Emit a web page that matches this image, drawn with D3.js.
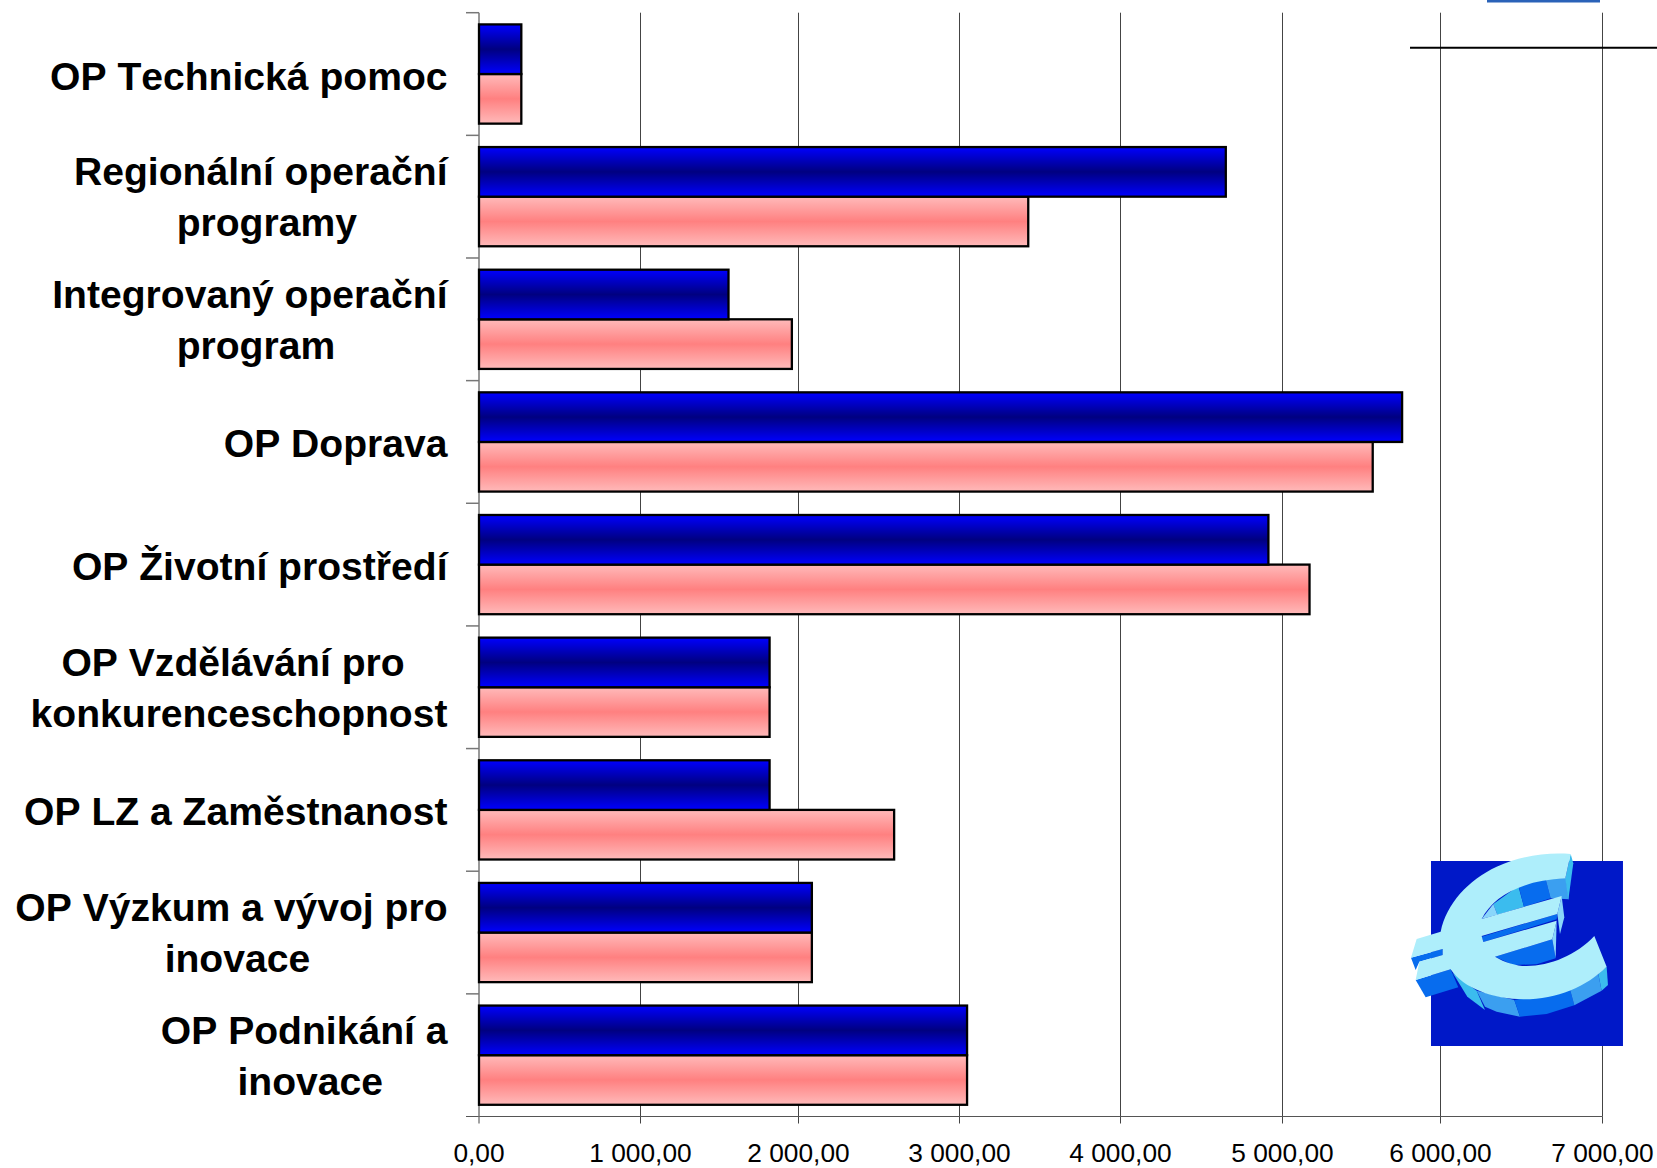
<!DOCTYPE html>
<html>
<head>
<meta charset="utf-8">
<script src="https://cdn.jsdelivr.net/npm/d3@7"></script>
<style>
  html, body { margin: 0; padding: 0; background: #fff; }
  svg { display: block; }
  text { font-family: "Liberation Sans", Arial, sans-serif; fill: #000; font-kerning: none; }
</style>
</head>
<body>
<div id="chart"></div>
<script>
// each category is a list of wrapped lines, same as the source chart
const categories = [
  ["OP Technická pomoc"],
  ["Regionální operační", "programy"],
  ["Integrovaný operační", "program"],
  ["OP Doprava"],
  ["OP Životní prostředí"],
  ["OP Vzdělávání pro", "konkurenceschopnost"],
  ["OP LZ a Zaměstnanost"],
  ["OP Výzkum a vývoj pro", "inovace"],
  ["OP Podnikání a", "inovace"]
];
const blueValues = [262, 4650, 1557, 5757, 4913, 1817, 1817, 2083, 3047];
const pinkValues = [262, 3427, 1958, 5571, 5171, 1817, 2594, 2083, 3047];
const xTicks = [0, 1000, 2000, 3000, 4000, 5000, 6000, 7000];

const width = 1657;
const height = 1168;
// the source axis is not quite even, so the scale goes through each measured tick
const xTickPos = [479, 640.5, 798.5, 959.5, 1120.5, 1282.5, 1440.5, 1602.5];
const plotTop = 12.7;
const plotBottom = 1116.5;

const svg = d3.select("#chart").append("svg")
  .attr("width", width)
  .attr("height", height);

// gradients for bars
const defs = svg.append("defs");
const addGradient = (id, edge, mid) => {
  const g = defs.append("linearGradient")
    .attr("id", id)
    .attr("x1", 0).attr("y1", 0).attr("x2", 0).attr("y2", 1);
  g.append("stop").attr("offset", "0%").attr("stop-color", edge);
  g.append("stop").attr("offset", "50%").attr("stop-color", mid);
  g.append("stop").attr("offset", "100%").attr("stop-color", edge);
};
addGradient("blueGrad", "#0000ff", "#000080");
addGradient("pinkGrad", "#ffbaba", "#ff8080");

const xScale = d3.scaleLinear().domain(xTicks).range(xTickPos);
const plotLeft = xScale(0);
const plotRight = xScale(7000);
const yScale = d3.scaleBand()
  .domain(categories.map((d, i) => i))
  .range([plotTop, plotBottom]);
const subScale = d3.scaleBand()
  .domain(["blue", "pink"])
  .range([0, yScale.bandwidth()])
  .paddingOuter(0.236)
  .paddingInner(0);

// grid lines
svg.append("g")
  .selectAll("line")
  .data(xTicks.slice(1))
  .join("line")
  .attr("x1", d => xScale(d))
  .attr("x2", d => xScale(d))
  .attr("y1", plotTop)
  .attr("y2", plotBottom)
  .attr("stroke", "#444")
  .attr("stroke-width", 1);

// x axis, labels use the czech number format
const formatTick = d => d3.format(",.2f")(d).replace(/,/g, " ").replace(".", ",");
const xAxis = d3.axisBottom(xScale)
  .tickValues(xTicks)
  .tickSize(7)
  .tickPadding(20)
  .tickFormat(formatTick)
  .offset(0);
const xAxisG = svg.append("g")
  .attr("transform", `translate(0, ${plotBottom})`)
  .call(xAxis);
xAxisG.select(".domain").remove();
xAxisG.selectAll("line").attr("stroke", "#444");
xAxisG.selectAll("text")
  .style("font-size", "26.3px")
  .attr("fill", "#000");

svg.append("line")
  .attr("x1", plotLeft - 13).attr("x2", plotRight)
  .attr("y1", plotBottom).attr("y2", plotBottom)
  .attr("stroke", "#555");

// category axis with ticks on the band edges
svg.append("line")
  .attr("x1", plotLeft).attr("x2", plotLeft)
  .attr("y1", plotTop).attr("y2", plotBottom)
  .attr("stroke", "#777")
  .attr("stroke-width", 1.5);
svg.append("g")
  .selectAll("line")
  .data(categories.map((d, i) => i))
  .join("line")
  .attr("x1", plotLeft - 13)
  .attr("x2", plotLeft)
  .attr("y1", d => yScale(d))
  .attr("y2", d => yScale(d))
  .attr("stroke", "#777")
  .attr("stroke-width", 1.5);

// bars
const drawBars = (values, key, fill) => {
  svg.append("g")
    .selectAll("rect")
    .data(values)
    .join("rect")
    .attr("x", xScale(0))
    .attr("y", (d, i) => yScale(i) + subScale(key))
    .attr("width", d => xScale(d) - xScale(0))
    .attr("height", subScale.bandwidth())
    .attr("fill", fill)
    .attr("stroke", "#000")
    .attr("stroke-width", 2.3);
};
drawBars(pinkValues, "pink", "url(#pinkGrad)");
drawBars(blueValues, "blue", "url(#blueGrad)");

// category labels
const labelRight = 447.5;
const lineGap = 51;
const secondShift = 6; // second line sits a bit right of the first one
const labels = svg.append("g")
  .style("font-size", "39.1px")
  .style("font-weight", "bold");
categories.forEach((lines, i) => {
  const mid = yScale(i) + yScale.bandwidth() / 2;
  const shift = lines.length === 1 ? 15.5 : 14;
  const texts = lines.map((t, k) => labels.append("text")
    .attr("y", mid + shift + (k - (lines.length - 1) / 2) * lineGap)
    .text(t));
  if (lines.length === 1) {
    texts[0].attr("x", labelRight).attr("text-anchor", "end");
    return;
  }
  const w = texts.map(t => t.node().getComputedTextLength());
  texts[0].attr("text-anchor", "middle");
  texts[1].attr("text-anchor", "middle");
  if (w[0] >= w[1]) {
    const c = labelRight - w[0] / 2;
    texts[0].attr("x", c);
    texts[1].attr("x", c + secondShift);
  } else {
    const c = labelRight - w[1] / 2;
    texts[1].attr("x", c);
    texts[0].attr("x", c - secondShift);
  }
});

// line and blue strip at the top right corner
svg.append("line")
  .attr("x1", 1410).attr("x2", width)
  .attr("y1", 47.7).attr("y2", 47.7)
  .attr("stroke", "#000")
  .attr("stroke-width", 2);
svg.append("rect")
  .attr("x", 1487).attr("y", 0)
  .attr("width", 113).attr("height", 2.5)
  .attr("fill", "#2a62b8");

// euro picture, traced in zoomed crop coordinates
const euro = svg.append("g").attr("transform", "translate(1380, 830) scale(0.3333)");
const shapes = [
  ["#0018c8", "M153,93H729V648H153Z"],
  ["#3bbcee", "M340,222L415,168L432,230L352,254Z"],
  ["#8ad6fa", "M305,267L340,222L352,254Z"],
  ["#076cee", "M415,165L497,148L512,205L432,230Z"],
  ["#3b9ff0", "M497,148L558,143L566,208L512,205Z"],
  ["#3bbcee", "M572,72L580,100L565,210L556,145Z"],
  ["#076cee", "M345,380L517,328L527,385L470,403L400,405Z"],
  ["#3bbcee", "M218,428L290,482L315,540L262,500Z"],
  ["#3b9ff0", "M290,482L403,510L420,560L350,545L315,530Z"],
  ["#076cee", "M403,510L570,478L583,526L500,552L420,560Z"],
  ["#3b9ff0", "M570,478L655,432L665,482L583,526Z"],
  ["#3bbcee", "M655,432L680,410L684,465L665,482Z"],
  ["#076cee", "M107,450L212,418L235,472L137,502Z"],
  ["#076cee", "M93,383L188,357V375L118,395L107,420Z"],
  ["#076cee", "M305,320L532,252L530,268L310,336Z"],
  ["#8ad6fa", "M545,198L553,262L540,312L532,252Z"],
  ["#8ad6fa", "M530,272L527,385L517,328Z"],
  ["#aeeefb", "M572,72C500,66 420,78 350,110C265,150 200,220 182,305L110,327L93,383L188,357V375L118,395L107,450L212,418C250,475 340,508 430,508C530,508 620,470 680,410L643,318C590,375 510,408 440,408C410,408 375,398 345,380L517,328L530,272L310,336L305,318L532,252L545,198L305,267C340,200 420,152 556,145Z"]
];
euro.selectAll("path")
  .data(shapes)
  .join("path")
  .attr("fill", d => d[0])
  .attr("d", d => d[1]);
</script>
</body>
</html>
